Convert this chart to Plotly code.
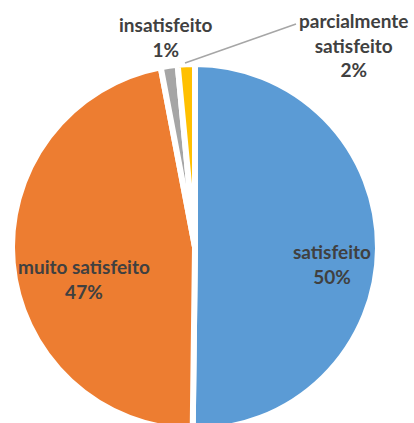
import plotly.graph_objects as go

# ---- data ----
categories = ["satisfeito", "muito satisfeito", "insatisfeito", "parcialmente satisfeito"]
values = [50.2, 46.8, 1.49, 1.51]
colors = ["#5B9BD5", "#ED7D31", "#A5A5A5", "#FFC000"]

W, H = 414, 440
TXT = "#404040"
FONT = "Lato"


def px(x):
    return x / W


def py(y):
    return 1 - y / H


total = sum(values)
pct = [int(v / total * 100 + 0.5) for v in values]

# pie geometry (pixels)
cx, cy, R = 195, 247, 183

fig = go.Figure(
    go.Pie(
        labels=categories,
        values=values,
        sort=False,
        direction="clockwise",
        rotation=0,
        marker=dict(colors=colors, line=dict(color="white", width=6)),
        textinfo="none",
        showlegend=False,
        hoverinfo="label+percent",
        domain=dict(x=[px(cx - R), px(cx + R)], y=[py(cy + R), py(cy - R)]),
    )
)

# label text built from the data; positions chosen to match the reference layout
label_lines = [
    "%s<br>%d%%" % (categories[0], pct[0]),
    "%s<br>%d%%" % (categories[1], pct[1]),
    "%s<br>%d%%" % (categories[2], pct[2]),
    "%s<br>%s<br>%d%%" % ("parcialmente", "satisfeito", pct[3]),
]
label_pos = [(332, 263.5), (84, 279), (165, 37), (353, 45)]

annotations = []
for txt, (x, y) in zip(label_lines, label_pos):
    annotations.append(dict(
        x=px(x), y=py(y), xref="paper", yref="paper",
        text="<b>%s</b>" % txt,
        showarrow=False, xanchor="center", yanchor="middle", align="center",
        font=dict(family=FONT, size=19, color=TXT),
    ))

shapes = [
    dict(type="line", xref="paper", yref="paper",
         x0=px(185), y0=py(63), x1=px(296), y1=py(24),
         line=dict(color="#A6A6A6", width=1.5)),
]

fig.update_layout(
    width=W, height=H,
    margin=dict(l=0, r=0, t=0, b=0),
    paper_bgcolor="white",
    plot_bgcolor="white",
    annotations=annotations,
    shapes=shapes,
)

fig.write_html(
    "out.html",
    config={"displayModeBar": False},
    post_script="document.body.style.margin='0';document.body.style.overflow='hidden';document.documentElement.style.overflow='hidden';",
)
